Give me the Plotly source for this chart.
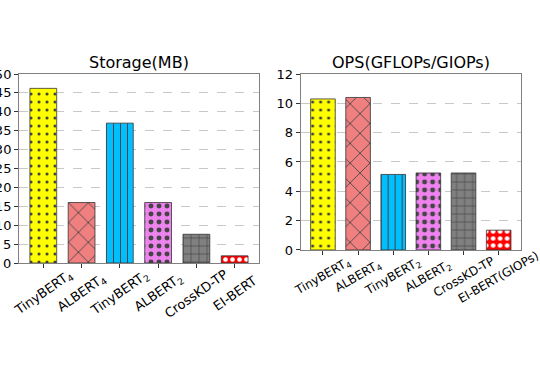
import plotly.graph_objects as go

categories_storage = ["TinyBERT<sub>4</sub>", "ALBERT<sub>4</sub>", "TinyBERT<sub>2</sub>",
                      "ALBERT<sub>2</sub>", "CrossKD-TP", "EI-BERT"]
categories_ops = ["TinyBERT<sub>4</sub>", "ALBERT<sub>4</sub>", "TinyBERT<sub>2</sub>",
                  "ALBERT<sub>2</sub>", "CrossKD-TP", "EI-BERT(GIOPs)"]
storage_mb = [46.2, 16.0, 37.0, 16.0, 7.6, 1.9]
ops_g = [10.3, 10.4, 5.15, 5.25, 5.25, 1.35]
storage_ticks = [0, 5, 10, 15, 20, 25, 30, 35, 40, 45, 50]
ops_ticks = [0, 2, 4, 6, 8, 10, 12]

colors = ["#FFFF00", "#F08080", "#00BFFF", "#EE82EE", "#808080", "#FF0000"]
shapes = [".", "x", "|", ".", "+", "."]
sizes = [8, 14, 7, 8, 8, 7]
solid = [0.12, 0.12, 0.15, 0.3, 0.15, 0.35]

fig = go.Figure()
font = "DejaVu Sans"
xi = list(range(6))
for vals, xa, ya in [(storage_mb, "x", "y"), (ops_g, "x2", "y2")]:
    fig.add_trace(go.Bar(
        x=xi, y=vals, xaxis=xa, yaxis=ya, width=0.7,
        marker=dict(color=colors, line=dict(color="#333333", width=0.8),
                    pattern=dict(shape=shapes, fgcolor="#1a1a1a", fgopacity=1, size=sizes,
                                 solidity=solid, fillmode="overlay")),
        showlegend=False))

axcommon = dict(showline=True, linecolor="#808080", linewidth=1, mirror=True,
                ticks="outside", ticklen=4, tickcolor="#333",
                tickfont=dict(family=font, size=13, color="#000"))
annots = [
    dict(text="Storage(MB)", x=0.239, y=1.0, xref="paper", yref="paper", xanchor="center",
         yanchor="bottom", showarrow=False, yshift=0, font=dict(family=font, size=16)),
    dict(text="OPS(GFLOPs/GIOPs)", x=0.780, y=1.0, xref="paper", yref="paper", xanchor="center",
         yanchor="bottom", showarrow=False, yshift=0, font=dict(family=font, size=16)),
]
for i, lab in enumerate(categories_storage):
    annots.append(dict(text=lab, x=i, y=0, xref="x", yref="y domain", xanchor="center",
                       yanchor="middle", yshift=-30, textangle=-35, showarrow=False,
                       font=dict(family=font, size=13)))
for i, lab in enumerate(categories_ops):
    annots.append(dict(text=lab, x=i, y=0, xref="x2", yref="y2 domain", xanchor="center",
                       yanchor="middle", yshift=-27, textangle=-30, showarrow=False,
                       font=dict(family=font, size=12)))

fig.update_layout(
    width=540, height=372, paper_bgcolor="white", plot_bgcolor="white",
    margin=dict(l=19, r=19, t=74, b=109),
    font=dict(family=font, color="#000"),
    xaxis=dict(domain=[0, 0.478], range=[-0.635, 5.635], tickvals=xi, showticklabels=False,
               showgrid=False, automargin=False, **axcommon),
    yaxis=dict(domain=[0, 1], range=[0, 50], tickvals=storage_ticks, showgrid=True,
               gridcolor="#c8c8c8", griddash="dash", gridwidth=0.8, zeroline=False,
               automargin=False, **axcommon),
    xaxis2=dict(domain=[0.561, 1.0], range=[-0.635, 5.635], tickvals=xi, showticklabels=False,
                showgrid=False, automargin=False, anchor="y2", **axcommon),
    yaxis2=dict(domain=[0.069, 1], range=[0, 12], tickvals=ops_ticks, showgrid=True, anchor="x2",
                gridcolor="#c8c8c8", griddash="dash", gridwidth=0.8, zeroline=False,
                automargin=False, **axcommon),
    annotations=annots,
)
fig.write_html("out.html", config={"displayModeBar": False},
               post_script="document.body.style.margin='0px';")
